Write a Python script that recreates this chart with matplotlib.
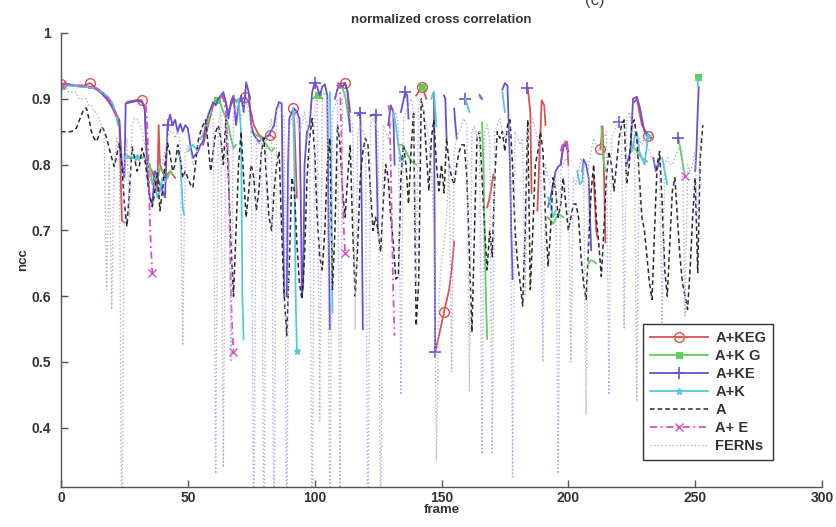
import numpy as np
import matplotlib
matplotlib.use('Agg')
import matplotlib.pyplot as plt

nan = np.nan
GAP = (nan, nan)

# A (black dashed), one value per frame 0..253
a_vals = [
    0.850, 0.850, 0.850, 0.850, 0.850, 0.852, 0.855, 0.865, 0.875, 0.884,
    0.886, 0.870, 0.850, 0.840, 0.835, 0.845, 0.858, 0.852, 0.840, 0.825,
    0.810, 0.797, 0.815, 0.833, 0.800, 0.740, 0.706, 0.760, 0.827, 0.810,
    0.790, 0.800, 0.825, 0.810, 0.780, 0.750, 0.736, 0.760, 0.790, 0.730,
    0.760, 0.800, 0.833, 0.815, 0.790, 0.800, 0.830, 0.810, 0.780, 0.790,
    0.780, 0.770, 0.765, 0.800, 0.835, 0.850, 0.860, 0.868, 0.830, 0.790,
    0.820, 0.850, 0.860, 0.840, 0.800, 0.868, 0.780, 0.680, 0.600, 0.700,
    0.800, 0.850, 0.780, 0.720, 0.760, 0.800, 0.780, 0.730, 0.760, 0.820,
    0.840, 0.780, 0.720, 0.700, 0.760, 0.800, 0.820, 0.700, 0.600, 0.540,
    0.650, 0.780, 0.760, 0.680, 0.620, 0.595, 0.660, 0.780, 0.840, 0.870,
    0.820, 0.720, 0.660, 0.640, 0.700, 0.800, 0.840, 0.610, 0.700, 0.860,
    0.830, 0.760, 0.720, 0.780, 0.830, 0.700, 0.600, 0.680, 0.780, 0.820,
    0.840, 0.830, 0.760, 0.700, 0.720, 0.700, 0.667, 0.740, 0.800, 0.780,
    0.720, 0.680, 0.626, 0.630, 0.780, 0.830, 0.800, 0.740, 0.820, 0.880,
    0.555, 0.620, 0.900, 0.880, 0.820, 0.760, 0.840, 0.868, 0.800, 0.760,
    0.800, 0.757, 0.840, 0.800, 0.780, 0.770, 0.800, 0.820, 0.830, 0.830,
    0.780, 0.660, 0.545, 0.700, 0.840, 0.850, 0.780, 0.700, 0.640, 0.700,
    0.660, 0.780, 0.850, 0.840, 0.850, 0.820, 0.860, 0.868, 0.800, 0.700,
    0.650, 0.620, 0.585, 0.700, 0.868, 0.610, 0.700, 0.800, 0.820, 0.850,
    0.820, 0.720, 0.645, 0.700, 0.780, 0.760, 0.720, 0.740, 0.780, 0.740,
    0.700, 0.720, 0.740, 0.740, 0.720, 0.660, 0.620, 0.595, 0.680, 0.760,
    0.800, 0.720, 0.680, 0.630, 0.700, 0.780, 0.820, 0.800, 0.760, 0.800,
    0.840, 0.860, 0.868, 0.770, 0.800, 0.860, 0.868, 0.840, 0.780, 0.720,
    0.700, 0.660, 0.620, 0.595, 0.700, 0.800, 0.820, 0.740, 0.640, 0.600,
    0.680, 0.760, 0.780, 0.720, 0.660, 0.620, 0.600, 0.580, 0.640, 0.720,
    0.780, 0.636, 0.810, 0.860,
]

# FERNs (lavender dotted), one value per frame 0..253
ferns_vals = [
    0.92, 0.92, 0.92, 0.91, 0.91, 0.91, 0.91, 0.90, 0.90, 0.90,
    0.90, 0.89, 0.89, 0.88, 0.88, 0.87, 0.86, 0.85, 0.61, 0.80,
    0.58, 0.80, 0.84, 0.82, 0.20, 0.80, 0.84, 0.72, 0.86, 0.87,
    0.87, 0.86, 0.85, 0.83, 0.80, 0.78, 0.77, 0.78, 0.79, 0.80,
    0.80, 0.82, 0.84, 0.85, 0.85, 0.84, 0.85, 0.83, 0.525, 0.82,
    0.83, 0.82, 0.80, 0.81, 0.83, 0.84, 0.85, 0.86, 0.87, 0.88,
    0.87, 0.33, 0.86, 0.88, 0.34, 0.87, 0.86, 0.50, 0.88, 0.89,
    0.88, 0.87, 0.89, 0.90, 0.88, 0.86, 0.20, 0.84, 0.83, 0.84,
    0.20, 0.84, 0.85, 0.87, 0.20, 0.88, 0.89, 0.88, 0.87, 0.20,
    0.86, 0.87, 0.88, 0.87, 0.85, 0.86, 0.88, 0.86, 0.84, 0.20,
    0.88, 0.90, 0.41, 0.90, 0.91, 0.90, 0.20, 0.88, 0.89, 0.90,
    0.30, 0.90, 0.91, 0.89, 0.87, 0.86, 0.55, 0.85, 0.86, 0.85,
    0.84, 0.20, 0.86, 0.87, 0.86, 0.85, 0.20, 0.86, 0.85, 0.84,
    0.86, 0.87, 0.88, 0.86, 0.45, 0.87, 0.88, 0.89, 0.90, 0.88,
    0.62, 0.89, 0.90, 0.88, 0.86, 0.84, 0.80, 0.70, 0.35, 0.60,
    0.65, 0.68, 0.72, 0.80, 0.485, 0.82, 0.84, 0.85, 0.86, 0.87,
    0.86, 0.455, 0.85, 0.86, 0.84, 0.85, 0.36, 0.85, 0.86, 0.84,
    0.36, 0.85, 0.86, 0.87, 0.85, 0.84, 0.85, 0.86, 0.325, 0.85,
    0.84, 0.83, 0.84, 0.60, 0.85, 0.86, 0.87, 0.85, 0.84, 0.82,
    0.50, 0.80, 0.78, 0.77, 0.76, 0.78, 0.33, 0.79, 0.80, 0.81,
    0.80, 0.50, 0.78, 0.77, 0.79, 0.81, 0.80, 0.42, 0.80, 0.82,
    0.84, 0.83, 0.82, 0.83, 0.84, 0.85, 0.45, 0.84, 0.85, 0.86,
    0.87, 0.86, 0.55, 0.87, 0.88, 0.86, 0.85, 0.44, 0.84, 0.83,
    0.84, 0.83, 0.82, 0.81, 0.80, 0.80, 0.79, 0.56, 0.80, 0.81,
    0.80, 0.80, 0.81, 0.82, 0.83, 0.82, 0.57, 0.80, 0.79, 0.80,
    0.82, 0.70, 0.84, 0.85,
]

# A+KEG (red, circles): (frame, ncc), GAP = tracker lost
keg_pts = [
    (0, 0.922), (3, 0.922), (6, 0.92), (9, 0.92), (11.4, 0.924), (14, 0.916),
    (16, 0.91), (18, 0.9), (20, 0.888), (22, 0.872), (23, 0.865), (24, 0.715),
    (25, 0.712), GAP,
    (26, 0.895), (28, 0.897), (30, 0.898), (31.8, 0.898), (33, 0.885), (34, 0.80),
    (36, 0.79), (38, 0.76), (38.5, 0.86), (39, 0.80), (41, 0.78), (43, 0.79),
    (45, 0.78), GAP,
    (56, 0.83), (58, 0.86), (60, 0.89), (62, 0.9), (64, 0.905), (66, 0.88),
    (68, 0.9), (70, 0.895), (72.6, 0.903), (74, 0.895), (76, 0.86), (78, 0.845),
    (80, 0.84), (82.4, 0.845), (84, 0.84), GAP,
    (91.5, 0.886), (92, 0.86), (93, 0.75), GAP,
    (109, 0.92), (110, 0.923), (112, 0.924), (113, 0.91), (114, 0.88), GAP,
    (140, 0.905), (142.5, 0.918), (144, 0.9), GAP,
    (147.5, 0.515), (149, 0.54), (151, 0.576), (153, 0.61), (154, 0.64), (155, 0.683), GAP,
    (168, 0.735), (169, 0.75), (170.5, 0.785), GAP,
    (184, 0.917), (185, 0.88), (185.5, 0.757), GAP,
    (187.8, 0.73), (188.5, 0.80), (189.5, 0.898), (190.5, 0.89), (191, 0.86), GAP,
    (197, 0.8), (198, 0.83), (199.5, 0.835), (200, 0.80), GAP,
    (210, 0.78), (211, 0.70), (211.5, 0.69), GAP,
    (212.6, 0.823), (213.5, 0.858), (214, 0.80), (214.6, 0.682), GAP,
    (226, 0.895), (227, 0.9), (229, 0.86), (231.5, 0.844), (233, 0.84),
]
keg_marks = [0, 11.4, 31.8, 72.6, 82.4, 91.5, 112, 142.5, 151, 212.6, 231.5]

# A+K G (green, squares)
kg_pts = [
    (0, 0.92), (4, 0.92), (8, 0.918), (12, 0.918), (15, 0.912), (17, 0.905),
    (19, 0.9), (20, 0.895), (21, 0.885), (22, 0.87), (22.5, 0.86), GAP,
    (25, 0.815), (27, 0.812), (29, 0.81), (31, 0.812), (33, 0.81), (35, 0.80),
    (36, 0.77), (37, 0.78), (38, 0.775), (39, 0.795), (40, 0.79), (41, 0.785),
    (42, 0.78), (43, 0.79), (44, 0.785), GAP,
    (55, 0.84), (57, 0.85), (60, 0.895), (61.5, 0.898), (62.7, 0.895), (64, 0.88),
    (66, 0.86), (67, 0.84), (68, 0.825), (69, 0.83), GAP,
    (75, 0.85), (77, 0.845), (79, 0.84), (81, 0.83), (83, 0.82), (84, 0.825), GAP,
    (99, 0.9), (101.4, 0.906), (103, 0.9), GAP,
    (110, 0.92), (111, 0.915), (112, 0.905), (113, 0.88), (114, 0.853), GAP,
    (133, 0.83), (134.5, 0.83), (136, 0.82), (138, 0.805), (140, 0.80), GAP,
    (142.5, 0.918), GAP,
    (166, 0.864), (166.5, 0.80), (167, 0.70), (167.5, 0.60), (168, 0.535), GAP,
    (192, 0.72), (194, 0.71), (196, 0.725), (198, 0.72), GAP,
    (208, 0.65), (209, 0.655), (211, 0.65), GAP,
    (213, 0.858), (213.5, 0.82), (214.5, 0.79), GAP,
    (225, 0.83), (227, 0.82), (229, 0.81), (231, 0.805), GAP,
    (243.4, 0.841), (244.5, 0.815), (246, 0.782), GAP,
    (251.3, 0.933),
]
kg_marks = [0, 61.5, 101.4, 142.5, 251.3]

# A+KE (blue-violet, plus)
ke_pts = [
    (0, 0.921), (3, 0.922), (6, 0.92), (9, 0.919), (12, 0.918), (14, 0.915),
    (16, 0.908), (18, 0.90), (20, 0.89), (22, 0.875), (23, 0.868), (24, 0.80),
    (25, 0.78), (25.5, 0.893), (28, 0.895), (30, 0.897), (32, 0.895), (33, 0.885),
    (34, 0.79), (35, 0.75), (36, 0.74), (37, 0.79), (38, 0.78), (40, 0.76),
    (41, 0.75), (42, 0.86), (43, 0.876), (44, 0.86), (45, 0.868), (46, 0.85),
    (47, 0.862), (48, 0.85), (49, 0.86), (50, 0.855), (51, 0.83), (52, 0.81),
    (54, 0.82), (55, 0.83), (56, 0.835), (57, 0.86), (58, 0.875), (59, 0.885),
    (60, 0.895), (61, 0.89), (62, 0.9), (63, 0.905), (64, 0.91), (65, 0.895),
    (66, 0.87), (67, 0.895), (68, 0.905), (69, 0.86), (70, 0.89), (71, 0.905),
    (72, 0.88), (73, 0.925), (74, 0.91), (75, 0.86), (76, 0.845), (78, 0.835),
    (80, 0.84), (82, 0.845), (84, 0.86), (85, 0.885), (86, 0.895), (87, 0.893),
    (87.6, 0.70), (88, 0.60), GAP,
    (89, 0.60), (89.5, 0.80), (90, 0.87), (91, 0.88), (92, 0.885), (93, 0.88),
    (94, 0.87), (94.5, 0.75), (95, 0.60), (95.5, 0.62), (96, 0.80), (97, 0.85),
    (98, 0.86), (99, 0.91), (100, 0.924), (101, 0.918), (102, 0.905), (103, 0.918),
    (104, 0.922), (105, 0.905), (105.5, 0.70), (106, 0.55), GAP,
    (108, 0.90), (109, 0.915), (110, 0.922), (111, 0.918), (112, 0.924), (113, 0.91),
    (114, 0.85), GAP,
    (117, 0.875), (118, 0.879), (118.5, 0.75), (119, 0.55), GAP,
    (122, 0.874), (123, 0.876), (124, 0.876), (124.5, 0.78), (125, 0.697), GAP,
    (129, 0.86), (130, 0.89), (131, 0.88), (131.5, 0.80), GAP,
    (134, 0.88), (135.7, 0.91), (136.5, 0.905), (137, 0.87), GAP,
    (146.5, 0.905), (147, 0.91), (147.3, 0.70), (147.5, 0.515), GAP,
    (151, 0.905), (151.5, 0.90), (152, 0.84), GAP,
    (155, 0.885), (155.5, 0.86), (156, 0.84), GAP,
    (159.4, 0.90), GAP,
    (165, 0.906), (166, 0.90), GAP,
    (174, 0.914), (175, 0.924), (176, 0.92), (177, 0.80), (177.5, 0.70), (178, 0.626), GAP,
    (183.8, 0.917), GAP,
    (192, 0.736), (193, 0.75), (194, 0.77), (195, 0.79), (196, 0.797), (197, 0.80),
    (198, 0.827), (199, 0.83), (200, 0.82), GAP,
    (205.5, 0.79), (206, 0.808), (207, 0.80), (208, 0.78), (208.7, 0.70), (209, 0.67), GAP,
    (219.8, 0.865), GAP,
    (223, 0.80), (224.5, 0.82), (225.5, 0.90), (227, 0.903), (228, 0.89), (229, 0.87),
    (230, 0.85), (231.5, 0.844), GAP,
    (233.5, 0.81), (234.5, 0.79), (235.5, 0.80), (236, 0.81), GAP,
    (243.4, 0.841), GAP,
    (250, 0.79), (250.5, 0.823), (251, 0.88), (251.4, 0.918),
]
ke_marks = [42, 100, 118, 124, 135.7, 147.5, 159.4, 183.8, 219.8, 243.4]

# A+K (cyan, star)
k_pts = [
    (0, 0.921), (5, 0.92), (10, 0.918), (14, 0.916), (16, 0.91), (18, 0.905),
    (20, 0.895), (21.5, 0.88), (22.5, 0.87), GAP,
    (25, 0.81), (28, 0.81), (30, 0.812), (32, 0.81), GAP,
    (37, 0.77), (38, 0.75), (39, 0.76), (40, 0.78), (41, 0.775), (42, 0.78), GAP,
    (46, 0.82), (47, 0.81), (48, 0.735), (48.5, 0.725), GAP,
    (50, 0.82), (52, 0.83), (54, 0.82), GAP,
    (69, 0.895), (70, 0.90), (71, 0.85), (71.5, 0.60), (72, 0.535), GAP,
    (91.5, 0.886), (92, 0.80), (92.5, 0.60), (93, 0.517), GAP,
    (106, 0.91), (106.5, 0.80), (107, 0.575), GAP,
    (131, 0.88), (132, 0.86), (133, 0.83), (134, 0.81), GAP,
    (146, 0.9), (147, 0.91), (148, 0.858), GAP,
    (159.4, 0.90), (160, 0.892), (161, 0.88), GAP,
    (174, 0.91), (175, 0.88), GAP,
    (192, 0.75), (193, 0.74), (194, 0.72), (195, 0.73), GAP,
    (203.5, 0.79), (204.5, 0.77), (205.5, 0.775), (206, 0.80), GAP,
    (225, 0.82), (226, 0.84), (227, 0.85), (228, 0.82), (230, 0.80), (231.5, 0.844), GAP,
    (237, 0.81), (238, 0.79), (239, 0.77), GAP,
    (251, 0.92), (251.3, 0.933),
]
k_marks = [0, 30, 93, 134, 231.5]

# A+ E (magenta dash-dot, x)
e_pts = [
    (0, 0.921), (4, 0.921), (8, 0.92), (12, 0.918), (15, 0.914), (18, 0.905),
    (21, 0.885), (22.5, 0.868), GAP,
    (33.5, 0.89), (34, 0.86), (34.5, 0.80), (35, 0.72), (35.5, 0.67), (36, 0.635), GAP,
    (63, 0.905), (64, 0.9), (65, 0.88), (66, 0.80), (66.5, 0.70), (67, 0.60),
    (67.5, 0.55), (68, 0.515), GAP,
    (109, 0.925), (110, 0.92), (110.5, 0.85), (111, 0.75), (111.5, 0.70), (112, 0.665), GAP,
    (129, 0.89), (129.5, 0.883), (130, 0.80), (130.5, 0.70), (131, 0.60), (131.5, 0.54), GAP,
    (165, 0.906), (165.5, 0.90), GAP,
    (197, 0.82), (198, 0.835), (199.5, 0.835), (200, 0.81), GAP,
    (246, 0.782),
]
e_marks = [0, 36, 68, 112, 246]

legend_labels = ['A+KEG', 'A+K G', 'A+KE', 'A+K', 'A', 'A+ E', 'FERNs']


def split(pts):
    xs = np.array([p[0] for p in pts], dtype=float)
    ys = np.array([p[1] for p in pts], dtype=float)
    return xs, ys


def mark_idx(xs, marks):
    return [i for i, f in enumerate(xs) if np.any(np.isclose(f, marks))]


plt.rcParams['font.family'] = ['Liberation Sans', 'DejaVu Sans']

fig = plt.figure(figsize=(8.36, 5.27), dpi=100)
ax = fig.add_axes([61 / 836, 1 - 487 / 527, 761 / 836, 454 / 527])

frames = np.arange(len(a_vals))

x, y = split(keg_pts)
ax.plot(x, y, '-', color='#d9534f', lw=1.3, marker='o', ms=7, mfc='none', mew=1.0,
        markevery=mark_idx(x, keg_marks), label=legend_labels[0])
x, y = split(kg_pts)
ax.plot(x, y, '-', color='#5fcf5f', lw=1.3, marker='s', ms=4, mew=0.8,
        markevery=mark_idx(x, kg_marks), label=legend_labels[1])
x, y = split(ke_pts)
ax.plot(x, y, '-', color='#6a4fd8', lw=1.3, marker='+', ms=8, mew=1.2,
        markevery=mark_idx(x, ke_marks), label=legend_labels[2])
x, y = split(k_pts)
ax.plot(x, y, '-', color='#55c8dc', lw=1.3, marker='*', ms=5,
        markevery=mark_idx(x, k_marks), label=legend_labels[3])
ax.plot(frames, a_vals, color='#2b2b2b', lw=1.1, ls=(0, (3, 2)), label=legend_labels[4])
x, y = split(e_pts)
ax.plot(x, y, color='#d64fc4', lw=1.3, ls=(0, (4, 2, 1, 2)), marker='x', ms=6, mew=1.0,
        markevery=mark_idx(x, e_marks), label=legend_labels[5])
ax.plot(frames, ferns_vals, color='#b3aee0', lw=1.0, ls=':', label=legend_labels[6])

ax.set_xlim(0, 300)
ax.set_ylim(0.31, 1.0)
ax.set_xticks(np.arange(0, 301, 50))
ax.set_yticks([0.4, 0.5, 0.6, 0.7, 0.8, 0.9, 1.0])
ax.set_yticklabels(['0.4', '0.5', '0.6', '0.7', '0.8', '0.9', '1'])
for s in ['top', 'right']:
    ax.spines[s].set_visible(False)
for s in ['left', 'bottom']:
    ax.spines[s].set_color('#555555')
    ax.spines[s].set_linewidth(1.0)
ax.tick_params(direction='in', length=5, width=1.0, color='#555555', labelsize=10)
ax.tick_params(axis='x', pad=3)
ax.tick_params(axis='y', pad=7)
for lab in ax.get_xticklabels() + ax.get_yticklabels():
    lab.set_fontweight('bold')
    lab.set_color('#333333')

ax.set_title('normalized cross correlation', fontsize=9.5, fontweight='bold',
             color='#333333', pad=7)
ax.set_xlabel('frame', fontsize=9.5, fontweight='bold', color='#333333', labelpad=-1)
ax.set_ylabel('ncc', fontsize=9.5, fontweight='bold', color='#333333', labelpad=2)

leg = ax.legend(loc='lower left', bbox_to_anchor=(643 / 836, 1 - 460 / 527),
                bbox_transform=fig.transFigure, borderaxespad=0,
                handlelength=4.0, labelspacing=0.28, handletextpad=0.5,
                borderpad=0.45,
                fancybox=False, framealpha=1, edgecolor='#333333',
                prop={'weight': 'bold', 'size': 10.5})
leg.get_frame().set_linewidth(1.0)
for t in leg.get_texts():
    t.set_color('#333333')

fig.text(585 / 836, 1.0, '(c)', fontsize=12, color='#444444', va='center')

fig.savefig('out.png', dpi=100)
